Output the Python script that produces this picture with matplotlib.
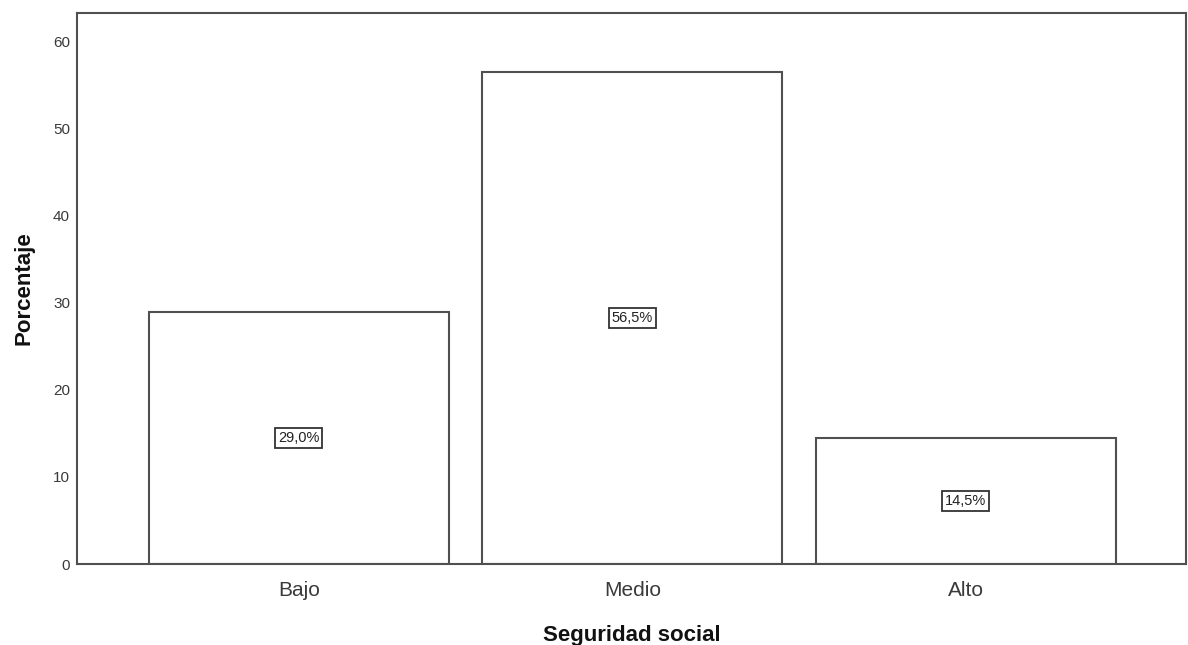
import matplotlib
matplotlib.use("Agg")
import matplotlib.pyplot as plt

categories = ["Bajo", "Medio", "Alto"]
percentages = [29.0, 56.5, 14.5]
value_labels = ["29,0%", "56,5%", "14,5%"]
yticks = [0, 10, 20, 30, 40, 50, 60]

plt.rcParams['font.family'] = ['Liberation Sans', 'DejaVu Sans']

fig = plt.figure(figsize=(11.88, 6.45), dpi=100)
ax = fig.add_axes([77/1188, 81/645, (1186-77)/1188, (564-13)/645])

edge = '#505050'
x = list(range(len(categories)))
ax.bar(x, percentages, width=0.9, facecolor='white', edgecolor=edge, linewidth=1.5)

for xi, v, lab in zip(x, percentages, value_labels):
    ax.text(xi, v / 2, lab, ha='center', va='center', fontsize=10.5, color='#222222',
            bbox=dict(boxstyle='square,pad=0.2', facecolor='white', edgecolor='#333333', linewidth=1.3))

ax.set_xlim(-0.665, 2.66)
ax.set_ylim(0, 63.3)
ax.set_xticks(x)
ax.set_xticklabels(categories, fontsize=15, color='#3a3a3a')
ax.set_yticks(yticks)
ax.set_yticklabels([str(t) for t in yticks], fontsize=11, color='#3a3a3a')
ax.tick_params(axis='both', length=0)
ax.tick_params(axis='x', pad=12)
ax.tick_params(axis='y', pad=5)

for s in ax.spines.values():
    s.set_color(edge)
    s.set_linewidth(1.5)

ax.set_xlabel('Seguridad social', fontsize=16, fontweight='bold', color='#111111', labelpad=18)
ax.set_ylabel('Porcentaje', fontsize=16, fontweight='bold', color='#111111', labelpad=13)

fig.savefig('out.png', dpi=100)
